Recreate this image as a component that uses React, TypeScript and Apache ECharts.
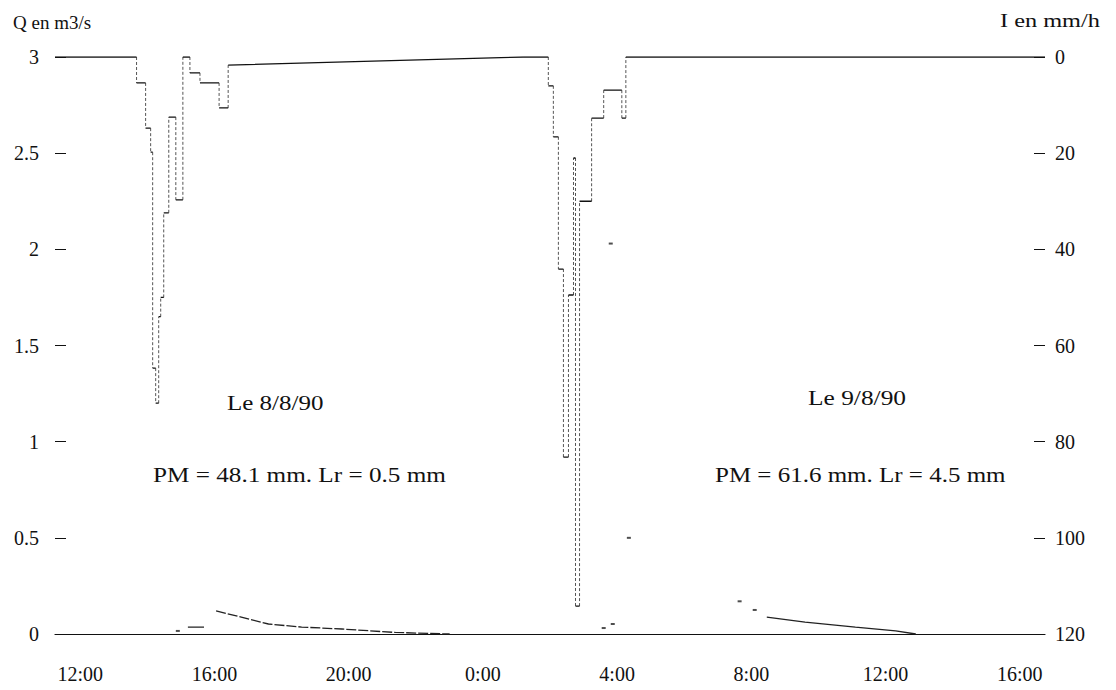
import React, { useEffect, useRef } from "react";
import * as echarts from "echarts";

const FONT = '"Liberation Serif", "Times New Roman", serif';

// x values are hours since 12:00 on 8/8/90
const timeLabels = ["12:00", "16:00", "20:00", "0:00", "4:00", "8:00", "12:00", "16:00"];

// Hyetograph, event of 8/8/90 : [hour, I mm/h]
const rain1: [number, number][] = [
  [-0.75, 0], [1.68, 0], [1.68, 5.4], [1.95, 5.4], [1.95, 14.8], [2.1, 14.8], [2.1, 19.8],
  [2.16, 19.8], [2.16, 64.7], [2.25, 64.7], [2.25, 72], [2.34, 72], [2.34, 54], [2.4, 54],
  [2.4, 50], [2.49, 50], [2.49, 32.4], [2.64, 32.4], [2.64, 12.5], [2.85, 12.5], [2.85, 29.7],
  [3.06, 29.7], [3.06, 0], [3.27, 0], [3.27, 3.3], [3.57, 3.3], [3.57, 5.4], [4.14, 5.4],
  [4.14, 10.6], [4.41, 10.6], [4.41, 1.7], [13.2, 0],
];

// Hyetograph, event of 9/8/90
const rain2: [number, number][] = [
  [13.95, 0], [13.95, 6.0], [14.1, 6.0], [14.1, 16.6], [14.25, 16.6], [14.25, 44.1],
  [14.4, 44.1], [14.4, 83.2], [14.55, 83.2], [14.55, 49.5], [14.7, 49.5], [14.7, 21.0],
  [14.76, 21.0], [14.76, 114.2], [14.88, 114.2], [14.88, 30.0], [15.24, 30.0], [15.24, 12.7],
  [15.6, 12.7], [15.6, 6.9], [16.14, 6.9], [16.14, 12.7], [16.26, 12.7], [16.26, 0], [28.75, 0],
];

// Hydrograph, event of 8/8/90 : [hour, Q m3/s]
const flow1Rise: [number, number][] = [[3.21, 0.036], [3.69, 0.036]];
const flow1Recession: [number, number][] = [
  [4.05, 0.12], [4.8, 0.088], [5.61, 0.052], [6.6, 0.036], [7.8, 0.026], [9.39, 0.008], [11.01, 0],
];

// Hydrograph, event of 9/8/90 : visible recession
const flow2Recession: [number, number][] = [
  [20.46, 0.088], [21.6, 0.062], [23.1, 0.036], [24.3, 0.016], [24.9, 0],
];

// Isolated visible traces of the hydrographs
const flowTraces: [number, number][] = [
  [2.91, 0.016], [15.6, 0.031], [15.87, 0.052], [15.81, 2.03], [16.35, 0.5], [19.65, 0.17], [20.1, 0.125],
];

// split a step trace into its non-vertical parts and its vertical parts
function splitSegments(points: [number, number][]) {
  const flat: (number | string)[][] = [];
  const vertical: (number | string)[][] = [];
  for (let i = 1; i < points.length; i++) {
    const a = points[i - 1];
    const b = points[i];
    const target = a[0] === b[0] ? vertical : flat;
    target.push([a[0], a[1]], [b[0], b[1]], [b[0], "-"]);
  }
  return { flat, vertical };
}

export default function App() {
  const ref = useRef<HTMLDivElement>(null);

  useEffect(() => {
    const chart = echarts.init(ref.current as HTMLDivElement, null, { renderer: "svg" });
    const labelStyle = { color: "#111", fontFamily: FONT, fontSize: 20 };
    const hyeto = splitSegments([...rain1, ...rain2]);
    const txt = (text: string, x: number, y: number, size: number, scaleX: number) => ({
      type: "text",
      x,
      y,
      scaleX,
      style: { text, fill: "#111", font: `${size}px ${FONT}`, textVerticalAlign: "middle" },
    });
    chart.setOption({
      animation: false,
      backgroundColor: "#fff",
      grid: { left: 55, right: 71, top: 57, bottom: 56 },
      xAxis: {
        type: "value",
        min: -0.75,
        max: 28.75,
        interval: 0.25,
        axisLine: { show: true, onZero: false, lineStyle: { color: "#111", width: 1.2 } },
        axisTick: { show: false },
        splitLine: { show: false },
        axisLabel: {
          ...labelStyle,
          margin: 30,
          formatter: (v: number) => {
            const k = Math.round(v * 4);
            if (k < 0 || k % 16 !== 0) return "";
            return timeLabels[k / 16] ?? "";
          },
        },
      },
      yAxis: [
        {
          type: "value",
          min: 0,
          max: 3,
          interval: 0.5,
          position: "left",
          axisLine: { show: false, onZero: false },
          axisTick: { show: true, inside: true, length: 11, lineStyle: { color: "#111" } },
          splitLine: { show: false },
          axisLabel: { ...labelStyle, margin: 16 },
        },
        {
          type: "value",
          min: 0,
          max: 120,
          interval: 20,
          inverse: true,
          position: "right",
          axisLine: { show: false, onZero: false },
          axisTick: { show: true, inside: true, length: 11, lineStyle: { color: "#111" } },
          splitLine: { show: false },
          axisLabel: { ...labelStyle, margin: 10 },
        },
      ],
      graphic: [
        txt("Q en m3/s", 13, 22, 19, 1),
        txt("I en mm/h", 1000, 21, 19, 1.28),
        txt("Le 8/8/90", 227, 403, 20, 1.25),
        txt("PM = 48.1 mm. Lr = 0.5 mm", 153, 475, 20, 1.26),
        txt("Le 9/8/90", 808, 398, 20, 1.27),
        txt("PM = 61.6 mm. Lr = 4.5 mm", 715, 475, 20, 1.25),
      ],
      series: [
        {
          type: "line",
          name: "I (vertical)",
          yAxisIndex: 1,
          data: hyeto.vertical,
          showSymbol: false,
          connectNulls: false,
          lineStyle: { color: "#555", width: 1, type: [3, 2] },
        },
        {
          type: "line",
          name: "I",
          yAxisIndex: 1,
          data: hyeto.flat,
          showSymbol: false,
          connectNulls: false,
          lineStyle: { color: "#111", width: 1.3 },
        },
        {
          type: "line",
          name: "Q 8/8 rise",
          yAxisIndex: 0,
          data: flow1Rise,
          showSymbol: false,
          lineStyle: { color: "#222", width: 1.3 },
        },
        {
          type: "line",
          name: "Q 8/8",
          yAxisIndex: 0,
          data: flow1Recession,
          showSymbol: false,
          lineStyle: { color: "#222", width: 1.3, type: [10, 2] },
        },
        {
          type: "line",
          name: "Q 9/8",
          yAxisIndex: 0,
          data: flow2Recession,
          showSymbol: false,
          lineStyle: { color: "#222", width: 1.3 },
        },
        {
          type: "scatter",
          name: "Q traces",
          yAxisIndex: 0,
          data: flowTraces,
          symbol: "rect",
          symbolSize: [4, 2],
          itemStyle: { color: "#222" },
        },
      ],
    });
    return () => chart.dispose();
  }, []);

  return (
    <div
      ref={ref}
      style={{ position: "absolute", left: 0, top: 0, width: 1116, height: 690, background: "#fff" }}
    />
  );
}
